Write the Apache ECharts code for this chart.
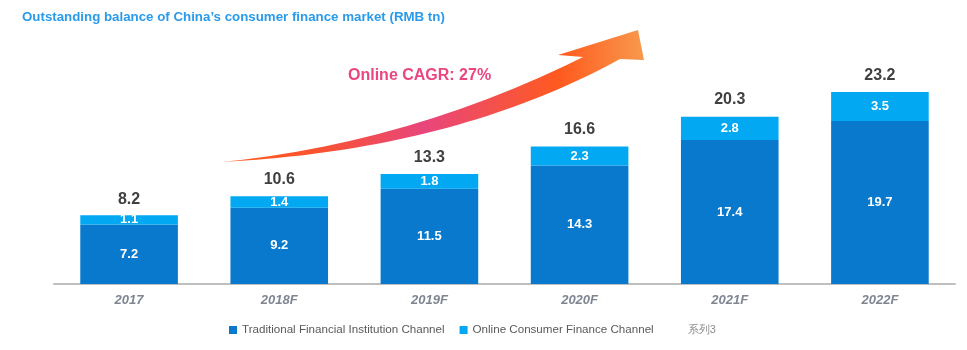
<!DOCTYPE html>
<html>
<head>
<meta charset="utf-8">
<script src="https://cdn.jsdelivr.net/npm/echarts@6/dist/echarts.min.js"></script>
<style>html,body{margin:0;padding:0;background:#fff}#c{width:967px;height:350px}</style>
</head>
<body>
<div id="c"></div>
<script>
var categories = ['2017', '2018F', '2019F', '2020F', '2021F', '2022F'];
var traditional = [7.2, 9.2, 11.5, 14.3, 17.4, 19.7];
var online = [1.1, 1.4, 1.8, 2.3, 2.8, 3.5];
var totals = [8.2, 10.6, 13.3, 16.6, 20.3, 23.2];
var seriesNames = ['Traditional Financial Institution Channel', 'Online Consumer Finance Channel', '系列3'];

// decorative curved arrow (drawn as graphic, not data)
function quad(p0, c, p1, n) {
  var pts = [];
  for (var i = 0; i <= n; i++) {
    var t = i / n, u = 1 - t;
    pts.push([u*u*p0[0] + 2*u*t*c[0] + t*t*p1[0], u*u*p0[1] + 2*u*t*c[1] + t*t*p1[1]]);
  }
  return pts;
}
var topEdge = quad([222,162],[410,143],[583,57],40);
var botEdge = quad([222,162],[454,150],[620,59],40).reverse();
var arrowPts = topEdge.concat([[558,55],[638,30],[644,60]]).concat(botEdge);

var chart = echarts.init(document.getElementById('c'), null, {renderer: 'canvas'});
var font = 'Liberation Sans, Arial, sans-serif';
chart.setOption({
  animation: false,
  textStyle: {fontFamily: font},
  title: {
    text: 'Outstanding balance of China\u2019s consumer finance market (RMB tn)',
    left: 17, top: 6,
    textStyle: {color: '#2A9AEA', fontSize: 13.3, fontWeight: 'bold', fontFamily: font}
  },
  legend: {
    left: 224, bottom: 9,
    itemWidth: 8, itemHeight: 8, itemGap: 15,
    textStyle: {color: '#595959', fontSize: 11.6, fontFamily: font},
    data: [
      {name: seriesNames[0], icon: 'rect'},
      {name: seriesNames[1], icon: 'rect'},
      {name: seriesNames[2], icon: 'none', textStyle: {color: '#8C8C8C', fontSize: 11, padding: [0, 0, 0, 6]}}
    ]
  },
  grid: {left: 54, right: 12, top: 77, bottom: 66},
  xAxis: {
    type: 'category', data: categories,
    axisLine: {lineStyle: {color: '#BFBFBF', width: 2}},
    axisTick: {show: false},
    axisLabel: {color: '#7F8591', fontSize: 13, fontWeight: 'bold', fontStyle: 'italic', margin: 10}
  },
  yAxis: {type: 'value', min: 0, max: 25, show: false, splitLine: {show: false}},
  series: [
    {
      name: seriesNames[0], type: 'bar', stack: 'a', barWidth: '65%', data: traditional,
      itemStyle: {color: '#0879CC'},
      label: {show: true, position: 'inside', color: '#fff', fontSize: 13, fontWeight: 'bold'}
    },
    {
      name: seriesNames[1], type: 'bar', stack: 'a', barWidth: '65%', data: online,
      itemStyle: {color: '#02A9F2'},
      label: {show: true, position: 'inside', color: '#fff', fontSize: 13, fontWeight: 'bold'}
    },
    {
      name: seriesNames[2], type: 'line', data: totals,
      symbol: 'circle', symbolSize: 1,
      itemStyle: {color: 'rgba(0,0,0,0)'},
      lineStyle: {opacity: 0},
      label: {show: true, position: 'top', distance: 8, color: '#404040', fontSize: 16, fontWeight: 'bold'},
      z: 5
    }
  ],
  graphic: [
    {
      type: 'polygon', z: 1,
      shape: {points: arrowPts},
      style: {
        fill: new echarts.graphic.LinearGradient(0, 0, 1, 0, [
          {offset: 0, color: '#FF5C1A'},
          {offset: 0.22, color: '#F9532F'},
          {offset: 0.48, color: '#E8467C'},
          {offset: 0.8, color: '#FF5A1F'},
          {offset: 1, color: '#F8994C'}
        ])
      }
    },
    {
      type: 'text', left: 348, top: 68, z: 2,
      style: {text: 'Online CAGR: 27%', fill: '#EA4680', font: 'bold 16px ' + font}
    }
  ]
});
</script>
</body>
</html>
